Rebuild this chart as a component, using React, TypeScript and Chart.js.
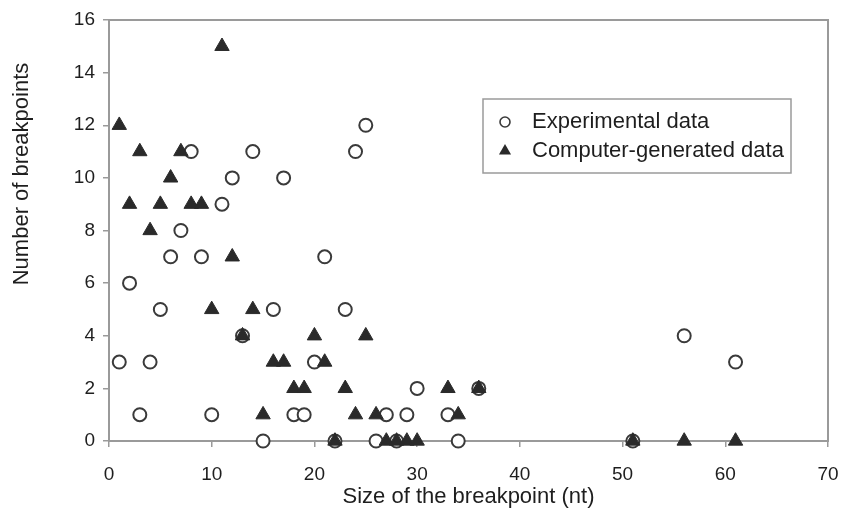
import React, { useEffect, useRef } from 'react';
import { Chart, registerables } from 'chart.js';

Chart.register(...registerables);

// Experimental data (open circles)
const experimentalSize = [1, 2, 3, 4, 5, 6, 7, 8, 9, 10, 11, 12, 13, 14, 15, 16, 17, 18, 19, 20, 21, 22, 23, 24, 25, 26, 27, 28, 29, 30, 33, 34, 36, 51, 56, 61];
const experimentalCount = [3, 6, 1, 3, 5, 7, 8, 11, 7, 1, 9, 10, 4, 11, 0, 5, 10, 1, 1, 3, 7, 0, 5, 11, 12, 0, 1, 0, 1, 2, 1, 0, 2, 0, 4, 3];

// Computer-generated data (filled triangles)
const computerSize = [1, 2, 3, 4, 5, 6, 7, 8, 9, 10, 11, 12, 13, 14, 15, 16, 17, 18, 19, 20, 21, 22, 23, 24, 25, 26, 27, 28, 29, 30, 33, 34, 36, 51, 56, 61];
const computerCount = [12, 9, 11, 8, 9, 10, 11, 9, 9, 5, 15, 7, 4, 5, 1, 3, 3, 2, 2, 4, 3, 0, 2, 1, 4, 1, 0, 0, 0, 0, 2, 1, 2, 0, 0, 0];

const seriesLabels = ['Experimental data', 'Computer-generated data'];
const xTitle = 'Size of the breakpoint (nt)';
const yTitle = 'Number of breakpoints';

const FONT = "'Liberation Sans', Arial, Helvetica, sans-serif";
const AXIS_GRAY = '#9a9a9a';
const TEXT = '#1e1e1e';

const decorPlugin = {
  id: 'decor',
  beforeDatasetsDraw(chart: any) {
    const { ctx, chartArea: a } = chart;
    ctx.save();
    ctx.strokeStyle = AXIS_GRAY;
    ctx.lineWidth = 2;
    ctx.strokeRect(a.left, a.top, a.right - a.left, a.bottom - a.top);
    ctx.restore();
  },
  afterDraw(chart: any) {
    const { ctx, chartArea: a } = chart;
    ctx.save();
    // y-axis title
    ctx.fillStyle = TEXT;
    ctx.font = `22px ${FONT}`;
    ctx.textAlign = 'center';
    ctx.textBaseline = 'middle';
    ctx.translate(22, a.top + 154);
    ctx.rotate(-Math.PI / 2);
    ctx.fillText(yTitle, 0, 0);
    ctx.restore();

    // legend box
    ctx.save();
    const bx = a.left + 374;
    const by = a.top + 79;
    const bw = 308;
    const bh = 74;
    ctx.fillStyle = '#ffffff';
    ctx.fillRect(bx, by, bw, bh);
    ctx.strokeStyle = AXIS_GRAY;
    ctx.lineWidth = 1.5;
    ctx.strokeRect(bx, by, bw, bh);
    const mx = bx + 22;
    const rows = [by + 23, by + 52];
    // circle marker
    ctx.beginPath();
    ctx.arc(mx, rows[0], 5, 0, Math.PI * 2);
    ctx.fillStyle = '#fff';
    ctx.fill();
    ctx.strokeStyle = '#3a3a3a';
    ctx.lineWidth = 1.6;
    ctx.stroke();
    // triangle marker
    const r = 7;
    ctx.beginPath();
    ctx.moveTo(mx, rows[1] - r);
    ctx.lineTo(mx + r * 0.866, rows[1] + r / 2);
    ctx.lineTo(mx - r * 0.866, rows[1] + r / 2);
    ctx.closePath();
    ctx.fillStyle = '#2a2a2a';
    ctx.fill();
    ctx.fillStyle = TEXT;
    ctx.font = `22px ${FONT}`;
    ctx.textAlign = 'left';
    ctx.textBaseline = 'middle';
    ctx.fillText(seriesLabels[0], bx + 49, rows[0]);
    ctx.fillText(seriesLabels[1], bx + 49, rows[1]);
    ctx.restore();
  },
};

export default function App() {
  const ref = useRef<HTMLCanvasElement>(null);

  useEffect(() => {
    document.body.style.margin = '0';
    const canvas = ref.current;
    if (!canvas) return;
    const chart = new Chart(canvas, {
      type: 'scatter',
      data: {
        datasets: [
          {
            label: seriesLabels[0],
            data: experimentalSize.map((x, i) => ({ x, y: experimentalCount[i] })),
            pointStyle: 'circle',
            pointRadius: 6.5,
            pointBorderWidth: 2,
            borderColor: '#3a3a3a',
            backgroundColor: '#ffffff',
            clip: false,
            order: 2,
          },
          {
            label: seriesLabels[1],
            data: computerSize.map((x, i) => ({ x, y: computerCount[i] })),
            pointStyle: 'triangle',
            pointRadius: 8.3,
            pointBorderWidth: 1,
            borderColor: '#2a2a2a',
            backgroundColor: '#2a2a2a',
            clip: false,
            order: 1,
          },
        ],
      },
      options: {
        responsive: false,
        animation: false,
        layout: { padding: { top: 20, right: 14, left: 0, bottom: 0 } },
        plugins: {
          legend: { display: false },
          tooltip: { enabled: false },
        },
        scales: {
          x: {
            type: 'linear',
            min: 0,
            max: 70,
            afterFit: (s: any) => {
              s.height = 73;
              s.paddingLeft = 0;
              s.paddingRight = 0;
            },
            ticks: {
              stepSize: 10,
              color: TEXT,
              font: { family: FONT, size: 19 },
              padding: 16,
              maxRotation: 0,
            },
            grid: {
              drawOnChartArea: false,
              drawTicks: true,
              tickLength: 6,
              color: AXIS_GRAY,
              lineWidth: 1.5,
            },
            border: { display: true, color: AXIS_GRAY, width: 2 },
            title: {
              display: true,
              text: xTitle,
              color: TEXT,
              font: { family: FONT, size: 22 },
              padding: { top: 0, bottom: 4 },
            },
          },
          y: {
            type: 'linear',
            min: 0,
            max: 16,
            afterFit: (s: any) => {
              s.width = 109;
              s.paddingTop = 0;
              s.paddingBottom = 0;
            },
            ticks: {
              stepSize: 2,
              color: TEXT,
              font: { family: FONT, size: 19 },
              padding: 8,
            },
            grid: {
              drawOnChartArea: false,
              drawTicks: true,
              tickLength: 6,
              color: AXIS_GRAY,
              lineWidth: 1.5,
            },
            border: { display: true, color: AXIS_GRAY, width: 2 },
            title: { display: false },
          },
        },
      },
      plugins: [decorPlugin],
    });
    return () => chart.destroy();
  }, []);

  return (
    <div style={{ width: 842, height: 514, background: '#fff' }}>
      <canvas ref={ref} width={842} height={514} style={{ display: 'block' }} />
    </div>
  );
}
